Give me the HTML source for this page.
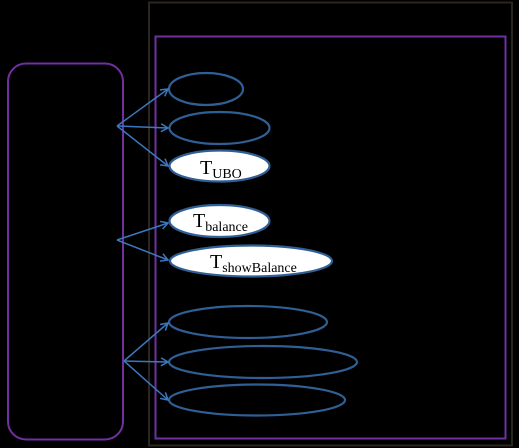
<!DOCTYPE html>
<html><head><style>html,body{margin:0;padding:0;background:#000;}svg{display:block}</style></head>
<body>
<svg width="519" height="448" viewBox="0 0 519 448" xmlns="http://www.w3.org/2000/svg">
<defs><marker id="a" markerWidth="10" markerHeight="10" refX="8" refY="5" orient="auto" markerUnits="userSpaceOnUse"><path d="M1,1 L8,5 L1,9" fill="none" stroke="#3b78c0" stroke-width="1.5"/></marker></defs>
<rect x="0" y="0" width="519" height="448" fill="#000"/>
<rect x="149" y="2.5" width="363" height="443" fill="none" stroke="#2b261b" stroke-width="2"/>
<rect x="155.5" y="36.5" width="350" height="402" fill="none" stroke="#7030a0" stroke-width="2"/>
<rect x="8" y="63.5" width="115" height="376" rx="18" fill="none" stroke="#7030a0" stroke-width="2"/>
<g stroke="#2f5f94" stroke-width="2.2">
<ellipse cx="206" cy="89" rx="37" ry="16" fill="#000"/>
<ellipse cx="219.5" cy="128" rx="50" ry="16" fill="#000"/>
<ellipse cx="219.5" cy="166" rx="50" ry="15.5" fill="#fff"/>
<ellipse cx="219.5" cy="221" rx="50" ry="16" fill="#fff"/>
<ellipse cx="251" cy="261" rx="81" ry="15.5" fill="#fff"/>
<ellipse cx="248" cy="322" rx="79" ry="16" fill="#000"/>
<ellipse cx="263" cy="362" rx="94" ry="16" fill="#000"/>
<ellipse cx="257" cy="400" rx="88" ry="15.5" fill="#000"/>
</g>
<g stroke="#3b78c0" stroke-width="1.5" fill="none" marker-end="url(#a)">
<line x1="117" y1="126" x2="168" y2="89"/>
<line x1="117" y1="126" x2="168" y2="128"/>
<line x1="117" y1="126" x2="168" y2="166"/>
<line x1="117" y1="240" x2="168" y2="223"/>
<line x1="117" y1="240" x2="168" y2="260"/>
<line x1="124" y1="361" x2="168" y2="323"/>
<line x1="124" y1="361" x2="168" y2="362"/>
<line x1="124" y1="361" x2="168" y2="400"/>
</g>
<g font-family="Liberation Serif, serif" fill="#000">
<text x="200" y="174" font-size="20">T<tspan font-size="14" dy="4">UBO</tspan></text>
<text x="193" y="227" font-size="20">T<tspan font-size="14" dy="4">balance</tspan></text>
<text x="210" y="268" font-size="20">T<tspan font-size="14" dy="4">showBalance</tspan></text>
</g>
</svg>
</body></html>
